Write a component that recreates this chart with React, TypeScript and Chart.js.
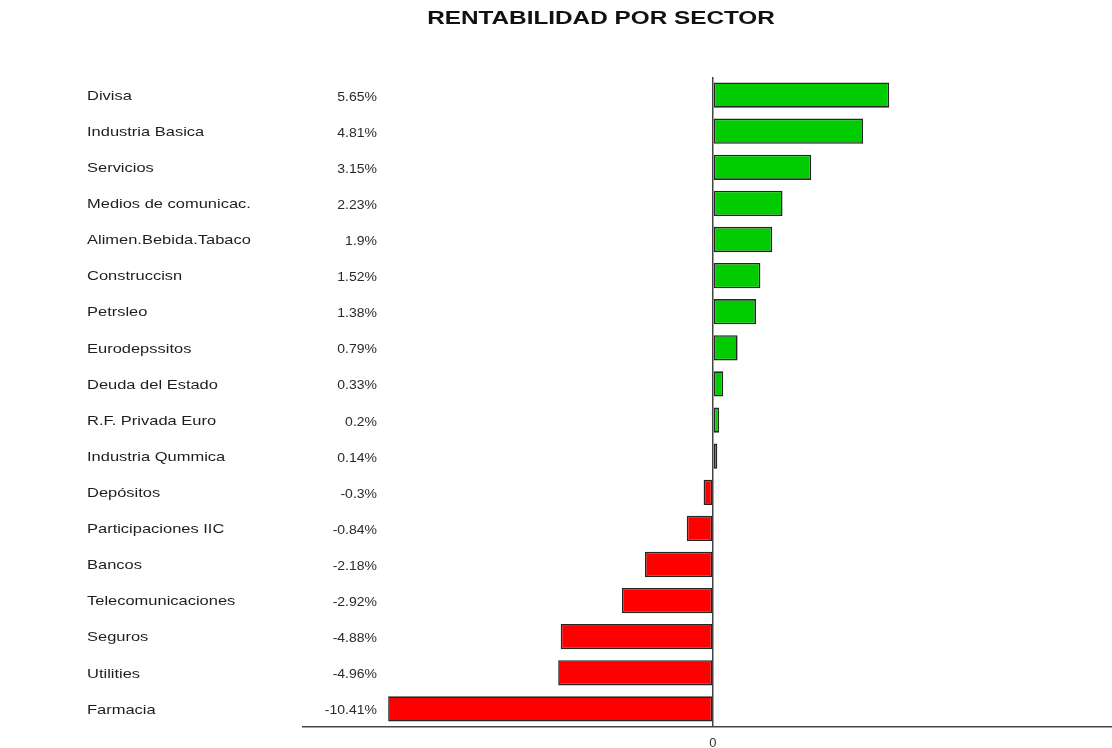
import React, { useEffect, useRef } from "react";
import { Chart, registerables } from "chart.js";

Chart.register(...registerables);

const TITLE = "RENTABILIDAD POR SECTOR";

const sectors: string[] = [
  "Divisa",
  "Industria Basica",
  "Servicios",
  "Medios de comunicac.",
  "Alimen.Bebida.Tabaco",
  "Construccisn",
  "Petrsleo",
  "Eurodepssitos",
  "Deuda del Estado",
  "R.F. Privada Euro",
  "Industria Qummica",
  "Depósitos",
  "Participaciones IIC",
  "Bancos",
  "Telecomunicaciones",
  "Seguros",
  "Utilities",
  "Farmacia",
];

const returns: number[] = [
  5.65, 4.81, 3.15, 2.23, 1.9, 1.52, 1.38, 0.79, 0.33, 0.2, 0.14,
  -0.3, -0.84, -2.18, -2.92, -4.88, -4.96, -10.41,
];

const xTickValues: number[] = [0];

const POS_COLOR = "#00cc00";
const NEG_COLOR = "#ff0000";

function drawStretched(
  ctx: CanvasRenderingContext2D,
  text: string,
  x: number,
  y: number,
  sx: number,
  align: CanvasTextAlign
) {
  ctx.save();
  ctx.translate(x, y);
  ctx.scale(sx, 1);
  ctx.textAlign = align;
  ctx.fillText(text, 0, 0);
  ctx.restore();
}

const labelsPlugin = {
  id: "sectorLabels",
  afterDraw(chart: any) {
    const ctx: CanvasRenderingContext2D = chart.ctx;
    const yScale = chart.scales.y;
    ctx.save();
    ctx.textBaseline = "middle";
    // title
    ctx.fillStyle = "#111111";
    ctx.font = "bold 19px 'Liberation Sans', Arial, sans-serif";
    drawStretched(ctx, TITLE, 601, 19, 1.28, "center");
    // row labels
    sectors.forEach((name, i) => {
      const y = yScale.getPixelForValue(i);
      ctx.fillStyle = "#1e1e1e";
      ctx.font = "13.5px 'Liberation Sans', Arial, sans-serif";
      drawStretched(ctx, name, 87, y + 1, 1.22, "left");
      ctx.fillStyle = "#2a2a2a";
      ctx.font = "12.5px 'Liberation Sans', Arial, sans-serif";
      drawStretched(ctx, `${returns[i]}%`, 377, y + 2, 1.12, "right");
    });
    ctx.restore();
  },
};

export default function App() {
  const canvasRef = useRef<HTMLCanvasElement | null>(null);

  useEffect(() => {
    if (!canvasRef.current) return;
    const chart = new Chart(canvasRef.current, {
      type: "bar",
      data: {
        labels: sectors,
        datasets: [
          {
            data: returns,
            backgroundColor: returns.map((v) => (v >= 0 ? POS_COLOR : NEG_COLOR)),
            borderColor: "#262626",
            borderWidth: 1.6,
            borderSkipped: false,
            barPercentage: 0.7,
            categoryPercentage: 1,
          },
        ],
      },
      options: {
        indexAxis: "y",
        animation: false,
        responsive: true,
        maintainAspectRatio: false,
        layout: { padding: { left: 303, top: 77, right: 0, bottom: 0 } },
        plugins: {
          legend: { display: false },
          tooltip: { enabled: false },
          title: { display: false },
        },
        scales: {
          y: {
            display: false,
            grid: { display: false },
          },
          x: {
            type: "linear",
            min: -13.14,
            max: 12.79,
            afterBuildTicks: (scale: any) => {
              scale.ticks = xTickValues.map((v) => ({ value: v }));
            },
            afterFit: (scale: any) => {
              scale.height = 21;
            },
            border: { display: true, color: "#444444", width: 1.5 },
            grid: {
              drawTicks: false,
              color: (c: any) => (c.tick && c.tick.value === 0 ? "#444444" : "rgba(0,0,0,0)"),
              lineWidth: 1.5,
            },
            ticks: {
              padding: 9,
              color: "#333333",
              font: { size: 13, family: "'Liberation Sans', Arial, sans-serif" },
              callback: (v: any) => String(v),
            },
          },
        },
      },
      plugins: [labelsPlugin],
    } as any);
    return () => chart.destroy();
  }, []);

  return (
    <div style={{ position: "absolute", left: 0, top: 0, width: 1112, height: 748, background: "#ffffff" }}>
      <canvas ref={canvasRef} />
    </div>
  );
}
